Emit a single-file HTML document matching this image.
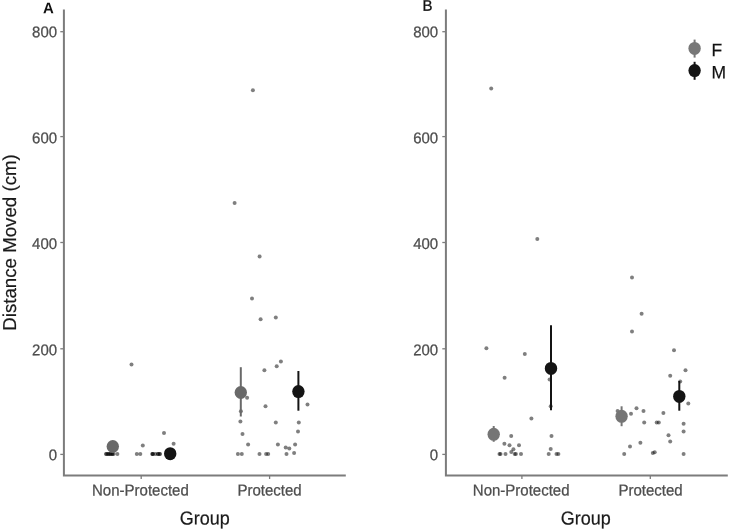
<!DOCTYPE html>
<html><head><meta charset="utf-8"><title>Distance Moved by Group</title>
<style>
html,body{margin:0;padding:0;background:#fff;}
body{width:729px;height:530px;overflow:hidden;font-family:"Liberation Sans",Arial,sans-serif;}
svg{display:block}
svg text{font-family:"Liberation Sans",Arial,sans-serif;text-rendering:geometricPrecision;}
.tk{font-size:15px;fill:#4d4d4d;stroke:#4d4d4d;stroke-width:0.25px}
.ti{font-size:18px;fill:#1a1a1a;stroke:#1a1a1a;stroke-width:0.2px}
.lg{font-size:17.5px;fill:#111;stroke:#111;stroke-width:0.2px}
</style></head><body>
<svg width="729" height="530" viewBox="0 0 729 530">
<rect width="729" height="530" fill="#fff"/>

<g stroke="#7c7c7c" stroke-width="2" fill="none">
<path d="M63.9 9.4V475.5H345.8"/>
</g>
<g stroke="#7c7c7c" stroke-width="1.3" fill="none">
<path d="M60.3 31.7H63.9"/>
<path d="M60.3 136.6H63.9"/>
<path d="M60.3 242.5H63.9"/>
<path d="M60.3 348.8H63.9"/>
<path d="M60.3 454.4H63.9"/>
<path d="M141.2 475.4V479"/>
<path d="M269.6 475.4V479"/>
</g>
<g class="tk" text-anchor="end">
<text transform="translate(57.1 37.35) rotate(-0.03) scale(1 1.03)">800</text>
<text transform="translate(57.1 143.15) rotate(-0.03) scale(1 1.03)">600</text>
<text transform="translate(57.1 249.0) rotate(-0.03) scale(1 1.03)">400</text>
<text transform="translate(57.1 355.3) rotate(-0.03) scale(1 1.03)">200</text>
<text transform="translate(57.1 460.2) rotate(-0.03) scale(1 1.03)">0</text>
</g>
<g class="tk" text-anchor="middle">
<text transform="translate(140.4 495.5) rotate(0.03) scale(1 1.05)">Non-Protected</text>
<text transform="translate(269.5 495.5) rotate(0.03) scale(1 1.05)">Protected</text>
</g>
<text class="ti" text-anchor="middle" transform="translate(204.8 524.5) rotate(0.03) scale(1 1.04)">Group</text>
<g stroke="#7c7c7c" stroke-width="2" fill="none">
<path d="M445.9 9.4V475.5H727.8"/>
</g>
<g stroke="#7c7c7c" stroke-width="1.3" fill="none">
<path d="M442.29999999999995 31.7H445.9"/>
<path d="M442.29999999999995 136.6H445.9"/>
<path d="M442.29999999999995 242.5H445.9"/>
<path d="M442.29999999999995 348.8H445.9"/>
<path d="M442.29999999999995 454.4H445.9"/>
<path d="M521.9 475.4V479"/>
<path d="M650.3 475.4V479"/>
</g>
<g class="tk" text-anchor="end">
<text transform="translate(438.2 37.35) rotate(-0.03) scale(1 1.03)">800</text>
<text transform="translate(438.2 143.15) rotate(-0.03) scale(1 1.03)">600</text>
<text transform="translate(438.2 249.0) rotate(-0.03) scale(1 1.03)">400</text>
<text transform="translate(438.2 355.3) rotate(-0.03) scale(1 1.03)">200</text>
<text transform="translate(438.2 460.2) rotate(-0.03) scale(1 1.03)">0</text>
</g>
<g class="tk" text-anchor="middle">
<text transform="translate(521.2 495.5) rotate(0.03) scale(1 1.05)">Non-Protected</text>
<text transform="translate(650.5 495.5) rotate(0.03) scale(1 1.05)">Protected</text>
</g>
<text class="ti" text-anchor="middle" transform="translate(585.7 524.5) rotate(0.03) scale(1 1.04)">Group</text>
<text class="ti" style="font-size:18.7px" text-anchor="middle" transform="translate(15.5 242.5) rotate(-90)">Distance Moved (cm)</text>
<text transform="translate(43.1 13.2) rotate(0.03) scale(1 1.03)" font-size="15" font-weight="bold" fill="#111">A</text>
<text transform="translate(422.4 10.7) rotate(0.03) scale(1 1.03)" font-size="15" fill="#111" stroke="#111" stroke-width="0.3">B</text>
<g fill="#000" fill-opacity="0.5">
<circle cx="131.5" cy="364.4" r="2"/>
<circle cx="106" cy="454.1" r="2"/>
<circle cx="106.5" cy="454.1" r="2"/>
<circle cx="108" cy="454.1" r="2"/>
<circle cx="108.5" cy="454.1" r="2"/>
<circle cx="110" cy="454.1" r="2"/>
<circle cx="110.5" cy="454.1" r="2"/>
<circle cx="112" cy="454.1" r="2"/>
<circle cx="112.5" cy="454.1" r="2"/>
<circle cx="113.6" cy="454.1" r="2"/>
<circle cx="117.4" cy="454.1" r="2"/>
<circle cx="136.8" cy="454.1" r="2"/>
<circle cx="140.3" cy="454.1" r="2"/>
<circle cx="152.2" cy="454.1" r="2"/>
<circle cx="152.6" cy="454.1" r="2"/>
<circle cx="153" cy="454.1" r="2"/>
<circle cx="155.3" cy="454.1" r="2"/>
<circle cx="157.8" cy="454.1" r="2"/>
<circle cx="158.2" cy="454.1" r="2"/>
<circle cx="159.6" cy="454.1" r="2"/>
<circle cx="160" cy="454.1" r="2"/>
<circle cx="142.8" cy="445.5" r="2"/>
<circle cx="164" cy="433" r="2"/>
<circle cx="173.6" cy="443.7" r="2"/>
<circle cx="237.9" cy="454.1" r="2"/>
<circle cx="241.8" cy="454.1" r="2"/>
<circle cx="259.5" cy="454.1" r="2"/>
<circle cx="266.1" cy="454.1" r="2"/>
<circle cx="268.2" cy="454.1" r="2"/>
<circle cx="286.5" cy="454.1" r="2"/>
<circle cx="294.1" cy="453" r="2"/>
<circle cx="285.7" cy="447.5" r="2"/>
<circle cx="289.3" cy="448.5" r="2"/>
<circle cx="295.1" cy="444.5" r="2"/>
<circle cx="277.9" cy="444.5" r="2"/>
<circle cx="248.1" cy="444.5" r="2"/>
<circle cx="242.5" cy="434" r="2"/>
<circle cx="240.4" cy="421.6" r="2"/>
<circle cx="275.8" cy="422.5" r="2"/>
<circle cx="298.8" cy="422.5" r="2"/>
<circle cx="298" cy="431.4" r="2"/>
<circle cx="240.9" cy="411.3" r="2"/>
<circle cx="265.5" cy="406.3" r="2"/>
<circle cx="307.5" cy="404.5" r="2"/>
<circle cx="264.4" cy="370.2" r="2"/>
<circle cx="276.7" cy="366.2" r="2"/>
<circle cx="280.9" cy="361.4" r="2"/>
<circle cx="247.1" cy="397.8" r="2"/>
<circle cx="252" cy="298.5" r="2"/>
<circle cx="260.6" cy="319.3" r="2"/>
<circle cx="275.8" cy="317.5" r="2"/>
<circle cx="234.6" cy="203" r="2"/>
<circle cx="259.6" cy="256.6" r="2"/>
<circle cx="252.9" cy="90.3" r="2"/>
<circle cx="499.5" cy="454.1" r="2"/>
<circle cx="500.5" cy="454.1" r="2"/>
<circle cx="505.5" cy="454.1" r="2"/>
<circle cx="511.3" cy="452.1" r="2"/>
<circle cx="513.4" cy="449.3" r="2"/>
<circle cx="514.7" cy="454.1" r="2"/>
<circle cx="515.9" cy="454.1" r="2"/>
<circle cx="521" cy="454.1" r="2"/>
<circle cx="504.4" cy="443.7" r="2"/>
<circle cx="509.5" cy="445.2" r="2"/>
<circle cx="519" cy="445.2" r="2"/>
<circle cx="511.2" cy="436.1" r="2"/>
<circle cx="531.4" cy="418.6" r="2"/>
<circle cx="551.5" cy="436.1" r="2"/>
<circle cx="550.7" cy="448.9" r="2"/>
<circle cx="548.7" cy="454.1" r="2"/>
<circle cx="556.5" cy="454.1" r="2"/>
<circle cx="558.4" cy="454.1" r="2"/>
<circle cx="550.7" cy="406.2" r="2"/>
<circle cx="486.4" cy="348.2" r="2"/>
<circle cx="524.8" cy="353.9" r="2"/>
<circle cx="504.6" cy="377.8" r="2"/>
<circle cx="549.6" cy="379.6" r="2"/>
<circle cx="491.2" cy="88.4" r="2"/>
<circle cx="537.3" cy="239.1" r="2"/>
<circle cx="617.6" cy="411" r="2"/>
<circle cx="631" cy="413.8" r="2"/>
<circle cx="636.5" cy="408.3" r="2"/>
<circle cx="643.5" cy="411" r="2"/>
<circle cx="644.2" cy="422.5" r="2"/>
<circle cx="656.7" cy="422.5" r="2"/>
<circle cx="658.8" cy="422.5" r="2"/>
<circle cx="663.4" cy="413.1" r="2"/>
<circle cx="688.3" cy="403.4" r="2"/>
<circle cx="683.6" cy="423.7" r="2"/>
<circle cx="683.6" cy="431.4" r="2"/>
<circle cx="668.5" cy="435.3" r="2"/>
<circle cx="670.2" cy="441.6" r="2"/>
<circle cx="640.4" cy="442.7" r="2"/>
<circle cx="630" cy="446.4" r="2"/>
<circle cx="624.2" cy="454.1" r="2"/>
<circle cx="652.8" cy="453" r="2"/>
<circle cx="654.7" cy="452.3" r="2"/>
<circle cx="683.6" cy="454.1" r="2"/>
<circle cx="632" cy="331.4" r="2"/>
<circle cx="674" cy="350.2" r="2"/>
<circle cx="685.5" cy="370.2" r="2"/>
<circle cx="670.2" cy="375.7" r="2"/>
<circle cx="680.2" cy="381.4" r="2"/>
<circle cx="632" cy="277.5" r="2"/>
<circle cx="641.6" cy="313.7" r="2"/>
</g>
<ellipse cx="112.8" cy="446.5" rx="6.2" ry="6.5" fill="#696969"/>
<ellipse cx="170.2" cy="453.7" rx="6.2" ry="6.5" fill="#141414"/>
<path d="M240.8 367.2V416.5" stroke="#696969" stroke-width="2"/>
<ellipse cx="240.8" cy="392.5" rx="6.2" ry="6.5" fill="#696969"/>
<path d="M298.4 371V410.7" stroke="#141414" stroke-width="2"/>
<ellipse cx="298.4" cy="391.6" rx="6.2" ry="6.5" fill="#141414"/>
<path d="M493.7 426.0V441.8" stroke="#757575" stroke-width="2"/>
<ellipse cx="493.7" cy="434.3" rx="6.2" ry="6.5" fill="#757575"/>
<path d="M551.0 325.2V410.3" stroke="#141414" stroke-width="2"/>
<ellipse cx="551.0" cy="368.4" rx="6.2" ry="6.5" fill="#141414"/>
<path d="M621.6 406.3V426.2" stroke="#757575" stroke-width="2"/>
<ellipse cx="621.6" cy="416.3" rx="6.2" ry="6.5" fill="#757575"/>
<path d="M679.3 381V410.7" stroke="#141414" stroke-width="2"/>
<ellipse cx="679.3" cy="396.4" rx="6.2" ry="6.5" fill="#141414"/>
<path d="M694.6 39.599999999999994V57.599999999999994" stroke="#777" stroke-width="2"/>
<ellipse cx="694.6" cy="48.4" rx="6.2" ry="6.5" fill="#777"/>
<text class="lg" transform="translate(711.5 56.3) rotate(0.03) scale(1 1.04)">F</text>
<path d="M694.6 61.8V79.8" stroke="#141414" stroke-width="2"/>
<ellipse cx="694.6" cy="70.6" rx="6.2" ry="6.5" fill="#141414"/>
<text class="lg" transform="translate(711.5 78.5) rotate(0.03) scale(1 1.04)">M</text>
</svg></body></html>
